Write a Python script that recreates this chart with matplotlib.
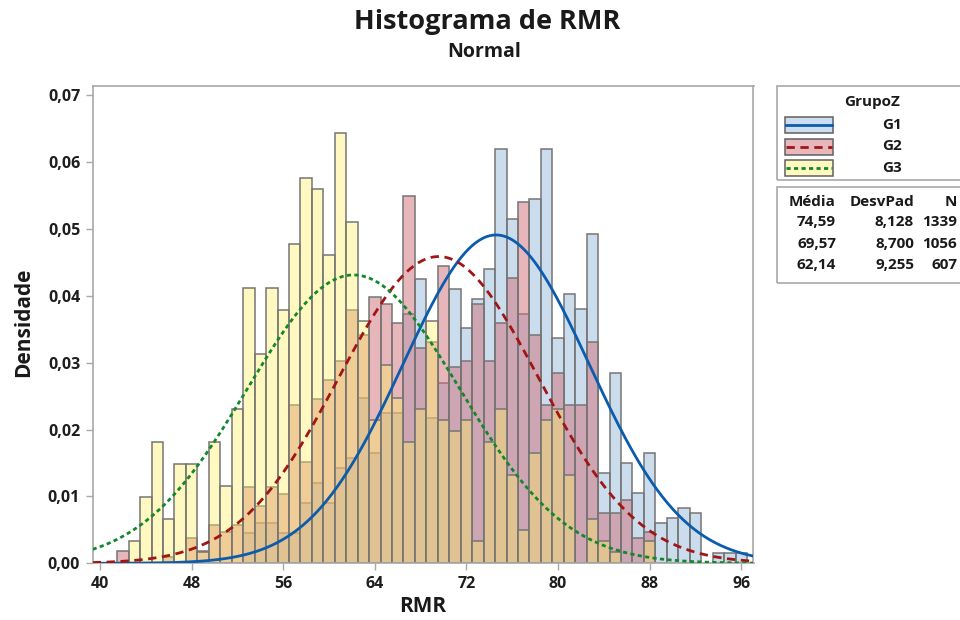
import numpy as np
import matplotlib
matplotlib.use("Agg")
from matplotlib import pyplot as plt
from matplotlib.patches import Rectangle
from matplotlib.lines import Line2D
from matplotlib.ticker import FuncFormatter

plt.rcParams['font.family'] = ['Open Sans', 'DejaVu Sans']

# classes (centro de cada barra, largura 1)
bins = np.arange(42, 97)

g1 = [0, 0, 0, 0, 0, 0, 0, 0, 0, 0, 0, 6, 8, 8, 6, 6, 12, 16, 12, 19,
      21, 33, 22, 30, 30, 50, 57, 29, 36, 55, 47, 53, 59, 83, 69, 50, 73, 83, 45, 54,
      51, 66, 18, 38, 20, 14, 22, 8, 9, 11, 10, 0, 2, 2, 2]
g2 = [2, 0, 0, 0, 1, 0, 4, 2, 6, 5, 6, 12, 9, 12, 11, 25, 16, 26, 29, 32,
      40, 36, 42, 41, 38, 58, 34, 35, 47, 31, 32, 41, 32, 38, 45, 57, 36, 25, 30, 25,
      25, 35, 8, 8, 10, 4, 5, 0, 0, 0, 0, 0, 0, 0, 0]
g3 = [0, 2, 6, 11, 4, 9, 9, 1, 11, 7, 14, 25, 19, 25, 23, 29, 35, 34, 28, 39,
      31, 22, 13, 18, 15, 11, 14, 22, 13, 12, 13, 2, 11, 14, 8, 3, 10, 13, 14, 8,
      0, 4, 2, 1, 0, 0, 2, 0, 0, 0, 0, 0, 0, 0, 0]

grupos = ['G1', 'G2', 'G3']
medias = [74.59, 69.57, 62.14]
desvpad = [8.128, 8.700, 9.255]
ns = [1339, 1056, 607]
contagens = [g1, g2, g3]

cor_barra = [(153/255, 187/255, 221/255, 0.5),
             (209/255, 111/255, 121/255, 0.5),
             (1.0, 238/255, 98/255, 0.4)]
cor_legenda = ['#CCDDEE', '#E8B7BC', '#FFF8C0']
cor_linha = ['#0B5CAD', '#A01616', '#13882B']
estilo = ['-', (0, (3, 2)), (0, (1.5, 1.2))]

W, H = 960, 620
fig = plt.figure(figsize=(9.6, 6.2), dpi=100)
ax = fig.add_axes([92.7/W, 1-563.3/H, (753.5-92.7)/W, (563.3-86)/H])

for c, n, fc in zip(contagens, ns, cor_barra):
    c = np.array(c)
    m = c > 0
    ax.bar(bins[m], c[m]/n, width=1, color=fc, edgecolor='#757575',
           linewidth=1.1, zorder=2)

# curvas normais ajustadas (media e desvio da tabela)
xs = np.linspace(39.36, 97.07, 500)
for mu, s, lc, ls in zip(medias, desvpad, cor_linha, estilo):
    y = np.exp(-0.5*((xs-mu)/s)**2)/(s*np.sqrt(2*np.pi))
    ax.plot(xs, y, color=lc, linestyle=ls, linewidth=2, zorder=3)

ax.set_xlim(39.36, 97.07)
ax.set_ylim(0, 0.07135)
ax.set_xticks(np.arange(40, 97, 8))
ax.set_yticks(np.arange(0, 0.071, 0.01))
ax.yaxis.set_major_formatter(FuncFormatter(lambda v, p: f'{v:.2f}'.replace('.', ',')))
for s in ax.spines.values():
    s.set_color('#A8A8A8')
    s.set_linewidth(1.2)
ax.tick_params(length=5, width=1, color='#A8A8A8', labelsize=11.5,
               labelcolor='#1E1E1E', pad=4)
plt.setp(ax.get_xticklabels() + ax.get_yticklabels(), fontweight='bold')

fig.text(487/W, 1-22/H, 'Histograma de RMR', ha='center', va='center',
         fontsize=19.5, fontweight='bold', color='#1A1A1A')
fig.text(484/W, 1-52/H, 'Normal', ha='center', va='center',
         fontsize=14, fontweight='bold', color='#1A1A1A')
fig.text(423/W, 1-607/H, 'RMR', ha='center', va='center',
         fontsize=15, fontweight='bold', color='#1A1A1A')
fig.text(24/W, 1-322/H, 'Densidade', ha='center', va='center', rotation=90,
         fontsize=15, fontweight='bold', color='#1A1A1A')

# caixa da legenda
def caixa(x0, y0, x1, y1):
    fig.add_artist(Rectangle((x0/W, 1-y1/H), (x1-x0)/W, (y1-y0)/H,
                             transform=fig.transFigure, fill=False,
                             edgecolor='#A8A8A8', linewidth=1.2))

caixa(777, 86, 980, 180)
caixa(777, 187, 980, 283)
fig.text(872/W, 1-102/H, 'GrupoZ', ha='center', va='center',
         fontsize=11, fontweight='bold', color='#1A1A1A')
for i, (g, fc, lc, ls) in enumerate(zip(grupos, cor_legenda, cor_linha, estilo)):
    yc = 125 + i*21.5
    fig.add_artist(Rectangle((785/W, 1-(yc+8)/H), 48/W, 16/H,
                             transform=fig.transFigure, facecolor=fc,
                             edgecolor='#606060', linewidth=1.1))
    fig.add_artist(Line2D([786/W, 832/W], [1-yc/H, 1-yc/H],
                          transform=fig.transFigure, color=lc,
                          linestyle=ls, linewidth=2))
    fig.text(892/W, 1-yc/H, g, ha='center', va='center',
             fontsize=11, fontweight='bold', color='#1A1A1A')

fig.text(836/W, 1-202/H, 'Média', ha='right', va='center',
         fontsize=11, fontweight='bold', color='#1A1A1A')
fig.text(914/W, 1-202/H, 'DesvPad', ha='right', va='center',
         fontsize=11, fontweight='bold', color='#1A1A1A')
fig.text(957/W, 1-202/H, 'N', ha='right', va='center',
         fontsize=11, fontweight='bold', color='#1A1A1A')
for i, (mu, s, n) in enumerate(zip(medias, desvpad, ns)):
    yc = 222 + i*21.5
    fig.text(836/W, 1-yc/H, f'{mu:.2f}'.replace('.', ','), ha='right',
             va='center', fontsize=11, fontweight='bold', color='#1A1A1A')
    fig.text(914/W, 1-yc/H, f'{s:.3f}'.replace('.', ','), ha='right',
             va='center', fontsize=11, fontweight='bold', color='#1A1A1A')
    fig.text(957/W, 1-yc/H, str(n), ha='right', va='center',
             fontsize=11, fontweight='bold', color='#1A1A1A')

fig.savefig('out.png', dpi=100)
